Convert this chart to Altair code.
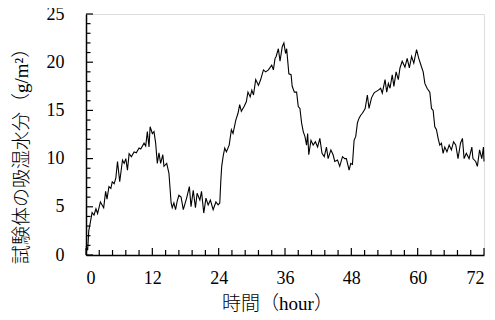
import altair as alt
import pandas as pd

hours = [0.0, 0.3, 0.5, 0.85, 1.1, 1.45, 1.8, 2.1, 2.6, 3.2, 3.55, 3.8, 4.15, 4.5, 4.75, 5.1, 5.4, 5.7, 6.1, 6.6,
         6.9, 7.2, 7.5, 7.8, 8.2, 8.7, 9.1, 9.6, 9.9, 10.5, 10.8, 11.1, 11.4, 11.6, 12.0, 12.3, 12.6, 12.9, 13.2, 13.5,
         13.9, 14.1, 14.6, 15.0, 15.4, 15.6, 15.9, 16.2, 16.5, 16.8, 17.2, 17.6, 18.2, 18.7, 19.0, 19.4, 19.8, 20.1,
         20.6, 20.9, 21.3, 21.7, 22.1, 22.5, 23.0, 23.5, 23.9, 24.2, 24.4, 24.55, 24.8, 25.1, 25.4, 25.9, 26.3, 26.6,
         27.1, 27.5, 27.8, 28.1, 28.6, 29.0, 29.3, 29.7, 30.0, 30.3, 30.7, 31.2, 31.6, 32.1, 32.5, 33.0, 33.6, 33.9,
         34.2, 34.4, 34.8, 35.1, 35.5, 35.8, 36.1, 36.3, 36.7, 37.1, 37.3, 37.7, 38.1, 38.4, 38.7, 39.0, 39.3, 39.6,
         39.9, 40.1, 40.3, 40.7, 41.1, 41.5, 41.9, 42.3, 42.7, 43.1, 43.5, 43.8, 44.3, 44.7, 45.0, 45.5, 45.9, 46.4,
         46.8, 47.1, 47.6, 47.9, 48.2, 48.5, 48.8, 49.1, 49.4, 49.7, 50.0, 50.3, 50.5, 50.9, 51.2, 51.65, 52.1, 52.3,
         52.9, 53.3, 53.6, 54.1, 54.4, 54.7, 55.0, 55.4, 55.7, 56.1, 56.5, 56.8, 57.2, 57.7, 58.1, 58.5, 58.9, 59.3,
         59.8, 60.2, 60.7, 61.0, 61.3, 61.7, 62.2, 62.5, 62.8, 63.1, 63.4, 63.7, 64.0, 64.3, 64.6, 64.9, 65.3, 65.7,
         66.1, 66.5, 66.9, 67.3, 67.75, 68.1, 68.4, 68.8, 69.3, 69.8, 70.0, 70.5, 70.8, 71.2, 71.6, 71.9, 72.0]
moisture = [0.9, 0.5, 2.5, 3.6, 4.4, 4.15, 4.8, 4.3, 5.5, 4.9, 6.6, 5.8, 7.1, 6.9, 7.6, 7.4, 8.0, 9.7, 7.6, 9.85,
            9.5, 10.0, 8.8, 10.5, 10.2, 10.7, 10.6, 11.1, 11.0, 11.6, 11.3, 12.8, 11.2, 13.3, 12.6, 12.8, 11.6, 9.5, 10.6, 9.5,
            10.4, 9.2, 9.5, 8.5, 5.4, 4.9, 5.4, 4.7, 5.6, 6.2, 6.0, 4.7, 5.9, 7.1, 5.0, 6.7, 4.9, 6.4,
            5.7, 6.6, 4.35, 5.9, 5.2, 5.7, 4.7, 5.5, 5.2, 5.4, 7.8, 9.2, 10.2, 11.1, 10.7, 11.4, 13.0, 12.6,
            14.0, 14.7, 15.6, 14.9, 15.4, 15.9, 16.9, 16.4, 17.1, 16.6, 18.2, 17.6, 18.2, 19.2, 19.0, 19.2, 19.7, 19.2,
            20.4, 20.6, 21.4, 20.1, 21.6, 22.0, 20.9, 21.4, 18.8, 18.7, 17.5, 16.9, 16.9, 15.4, 15.2, 13.7, 12.8, 12.3,
            11.4, 12.6, 10.4, 11.9, 11.4, 11.75, 11.2, 12.1, 10.55, 10.2, 11.2, 10.0, 10.9, 10.4, 9.7, 9.85, 9.2, 10.2,
            10.0, 10.0, 8.8, 9.5, 9.4, 11.9, 12.3, 13.7, 14.2, 14.5, 14.7, 15.0, 15.2, 16.6, 15.2, 16.3, 16.8, 16.9,
            17.1, 17.3, 16.8, 18.2, 16.9, 17.8, 17.3, 18.7, 17.5, 19.0, 18.2, 19.4, 20.1, 19.5, 20.4, 19.4, 20.6, 19.9,
            21.3, 20.4, 19.5, 19.0, 17.8, 17.3, 16.9, 15.2, 15.0, 13.3, 13.0, 12.1, 11.4, 11.6, 10.55, 11.2, 10.7, 11.4,
            10.9, 11.75, 11.4, 10.0, 11.6, 12.1, 10.0, 10.55, 10.0, 11.2, 10.0, 9.7, 9.2, 10.9, 10.0, 11.2, 9.7]

x_major = [0, 12, 24, 36, 48, 60, 72]
x_minor = [2.4, 4.8, 7.2, 9.6, 14.4, 16.8, 19.2, 21.6, 26.4, 28.8, 31.2, 33.6, 38.4, 40.8, 43.2, 45.6,
           50.4, 52.8, 55.2, 57.6, 62.4, 64.8, 67.2, 69.6]
y_major = [0, 5, 10, 15, 20, 25]
y_minor = [1, 2, 3, 4, 6, 7, 8, 9, 11, 12, 13, 14, 16, 17, 18, 19, 21, 22, 23, 24]

x_title = "時間（hour）"
y_title = "試験体の吸湿水分（g/m²）"

W, H = 398, 241
FONT = "Liberation Serif, Noto Sans CJK JP"

xs = alt.Scale(domain=[0, 72], nice=False, zero=False)
ys = alt.Scale(domain=[0, 25], nice=False)
xaxis = alt.Axis(values=x_major, title=x_title, grid=False, tickSize=0, labelPadding=14,
                 labelFont=FONT, labelFontSize=18, labelColor="black",
                 titleFont=FONT, titleFontSize=19, titleFontWeight=300, titleColor="black",
                 titleX=191, titleY=48, titleBaseline="middle",
                 domainColor="black", domainWidth=1.5)
yaxis = alt.Axis(values=y_major, title=y_title, grid=False, tickSize=0, labelPadding=22,
                 labelFont=FONT, labelFontSize=18, labelColor="black",
                 titleFont=FONT, titleFontSize=19, titleFontWeight=300, titleColor="black",
                 titleX=-65, titleY=137, titleBaseline="middle", titleAngle=-90,
                 domainColor="black", domainWidth=1.5)

df = pd.DataFrame({"t": hours, "v": moisture})

line = alt.Chart(df).mark_line(color="black", strokeWidth=1.1).encode(
    x=alt.X("t:Q", scale=xs, axis=xaxis),
    y=alt.Y("v:Q", scale=ys, axis=yaxis),
)

def xticks(vals, length):
    return alt.Chart(pd.DataFrame({"t": vals})).mark_rule(color="black", strokeWidth=1.2).encode(
        x=alt.X("t:Q", scale=xs, axis=xaxis),
        y=alt.value(H), y2=alt.value(H - length),
    )

def yticks(vals, length):
    return alt.Chart(pd.DataFrame({"v": vals})).mark_rule(color="black", strokeWidth=1.2).encode(
        y=alt.Y("v:Q", scale=ys, axis=yaxis),
        x=alt.value(0), x2=alt.value(length),
    )

chart = alt.layer(
    line,
    xticks(x_major, 7), xticks(x_minor, 5),
    yticks(y_major, 7), yticks(y_minor, 4.5),
).properties(
    width=W, height=H,
    autosize=alt.AutoSizeParams(type="none"),
    padding={"left": 78, "top": 6, "right": 3, "bottom": 57},
).configure_view(stroke="#333", strokeWidth=1.2).configure(background="white")

chart.save("out.html", embed_options={"renderer": "svg", "actions": False})
